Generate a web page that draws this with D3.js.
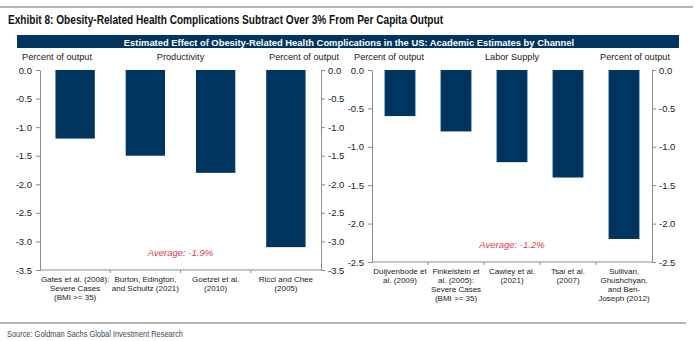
<!DOCTYPE html>
<html><head><meta charset="utf-8">
<script src="https://cdn.jsdelivr.net/npm/d3@7"></script>
<style>
body{margin:0;background:#fff;}
svg{display:block;font-family:"Liberation Sans",Arial,sans-serif;}
</style></head>
<body>
<svg id="c" width="695" height="341"></svg>
<script>
// ---- data ----
const prodCategories = [
  ["Gates et al. (2008):","Severe Cases","(BMI >= 35)"],
  ["Burton, Edington,","and Schultz (2021)"],
  ["Goetzel et al.","(2010)"],
  ["Ricci and Chee","(2005)"]
];
const prodValues = [-1.2, -1.5, -1.8, -3.1];
const prodTicks = [0.0, -0.5, -1.0, -1.5, -2.0, -2.5, -3.0, -3.5];
const prodAverage = "Average: -1.9%";

const laborCategories = [
  ["Duijvenbode et","al. (2009)"],
  ["Finkelstein et","al. (2005):","Severe Cases","(BMI >= 35)"],
  ["Cawley et al.","(2021)"],
  ["Tsai et al.","(2007)"],
  ["Sullivan,","Ghushchyan,","and Ben-","Joseph (2012)"]
];
const laborValues = [-0.6, -0.8, -1.2, -1.4, -2.2];
const laborTicks = [0.0, -0.5, -1.0, -1.5, -2.0, -2.5];
const laborAverage = "Average: -1.2%";

const titleText = "Exhibit 8: Obesity-Related Health Complications Subtract Over 3% From Per Capita Output";
const headerText = "Estimated Effect of Obesity-Related Health Complications in the US: Academic Estimates by Channel";
const unitLabel = "Percent of output";
const sourceText = "Source: Goldman Sachs Global Investment Research";

// ---- drawing ----
const svg = d3.select("#c");
const navy = "#00355f", axisCol = "#8c8c8c", txt = "#1a1a1a", red = "#e23a52";

svg.append("line").attr("x1",0).attr("x2",693).attr("y1",7).attr("y2",7)
  .attr("stroke","#b4b4b4").attr("stroke-width",2);
svg.append("text").attr("x",8).attr("y",24).text(titleText)
  .attr("textLength",435).attr("lengthAdjust","spacingAndGlyphs")
  .style("font-weight","bold").style("font-size","13px").attr("fill","#111");

svg.append("rect").attr("x",17).attr("y",35).attr("width",662).attr("height",13).attr("fill",navy);
svg.append("text").attr("x",349).attr("y",45.5).attr("text-anchor","middle").text(headerText)
  .attr("fill","#fff").style("font-weight","bold").style("font-size","9.4px");

const fmt = v => d3.format(".1f")(v).replace("\u2212","-");

function panel(opt){
  const {x0,x1,yTop,yBot,domainMin,cats,vals,ticks,title,avg,labY,pad} = opt;
  const g = svg.append("g");
  const x = d3.scaleBand().domain(d3.range(cats.length)).range([x0,x1]).paddingInner(pad).paddingOuter(pad/2);
  const y = d3.scaleLinear().domain([domainMin,0]).range([yBot,yTop]);

  g.selectAll("rect.bar").data(vals).join("rect").attr("class","bar")
    .attr("x",(d,i)=>x(i)).attr("width",x.bandwidth())
    .attr("y",y(0)).attr("height",d=>y(d)-y(0)).attr("fill",navy);

  const yl = g.append("g").attr("transform",`translate(${x0},0)`)
    .call(d3.axisLeft(y).tickValues(ticks).tickFormat(fmt).tickSize(4).tickPadding(4).tickSizeOuter(0));
  const yr = g.append("g").attr("transform",`translate(${x1},0)`)
    .call(d3.axisRight(y).tickValues(ticks).tickFormat(fmt).tickSize(4).tickPadding(3).tickSizeOuter(0));
  // bottom axis: ticks at category boundaries
  const bounds = d3.range(1,cats.length).map(i => (x(i-1)+x.bandwidth()+x(i))/2);
  const xb = g.append("g").attr("transform",`translate(0,${yBot})`);
  xb.append("line").attr("x1",x0).attr("x2",x1).attr("stroke",axisCol);
  xb.selectAll("line.t").data(bounds).join("line").attr("class","t")
    .attr("x1",d=>d).attr("x2",d=>d).attr("y1",0).attr("y2",3).attr("stroke",axisCol);

  [yl,yr].forEach(a=>{
    a.select(".domain").attr("stroke",axisCol);
    a.selectAll(".tick line").attr("stroke",axisCol);
    a.selectAll(".tick text").attr("fill",txt).style("font-size","9.5px").style("font-family",'"Liberation Sans",Arial,sans-serif');
  });

  // category labels
  cats.forEach((lines,i)=>{
    const t = g.append("text").attr("text-anchor","middle").attr("fill",txt).style("font-size","8px");
    lines.forEach((l,k)=>t.append("tspan").attr("x",x(i)+x.bandwidth()/2).attr("y",labY+k*9).text(l));
  });

  // unit labels and title
  g.append("text").attr("x",x0-18).attr("y",60).text(unitLabel).attr("fill",txt).style("font-size","9.2px");
  g.append("text").attr("x",x1+18).attr("y",60).attr("text-anchor","end").text(unitLabel).attr("fill",txt).style("font-size","9.2px");
  g.append("text").attr("x",(x0+x1)/2).attr("y",60).attr("text-anchor","middle").text(title).attr("fill",txt).style("font-size","9.2px");

  g.append("text").attr("x",(x0+x1)/2).attr("y",yBot-14).attr("text-anchor","middle").text(avg)
    .attr("fill",red).style("font-size","9.5px").style("font-style","italic");
}

panel({x0:40,x1:321,yTop:70,yBot:270,domainMin:-3.5,cats:prodCategories,vals:prodValues,ticks:prodTicks,
  title:"Productivity",avg:prodAverage,labY:282,pad:0.44});
panel({x0:372,x1:652,yTop:70,yBot:262,domainMin:-2.5,cats:laborCategories,vals:laborValues,ticks:laborTicks,
  title:"Labor Supply",avg:laborAverage,labY:274,pad:0.45});

svg.append("line").attr("x1",0).attr("x2",686).attr("y1",323).attr("y2",323)
  .attr("stroke","#b4b4b4").attr("stroke-width",2);
svg.append("text").attr("x",7).attr("y",337).text(sourceText)
  .attr("textLength",176).attr("lengthAdjust","spacingAndGlyphs")
  .style("font-size","9px").attr("fill","#3e4858");
</script>
</body></html>
